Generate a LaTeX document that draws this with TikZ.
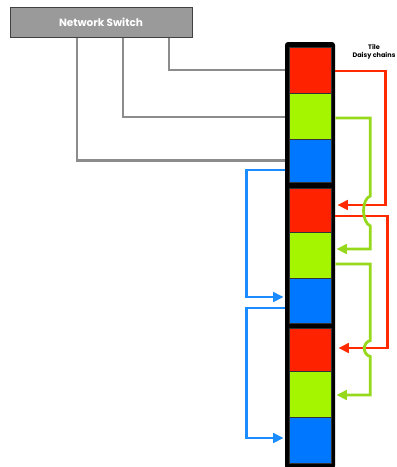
\documentclass[tikz,border=0pt]{standalone}
\usepackage{fontspec}
\setmainfont{Poppins}
\usetikzlibrary{arrows.meta}
\definecolor{cred}{HTML}{FF2200}
\definecolor{cgreen}{HTML}{A6F500}
\definecolor{cblue}{HTML}{0077FF}
\definecolor{lred}{HTML}{FF2A00}
\definecolor{lgreen}{HTML}{96D91A}
\definecolor{lblue}{HTML}{1A8CFF}
\definecolor{swfill}{HTML}{9A9A9A}
\definecolor{lgray}{HTML}{8C8C8C}
\tikzset{
  cell/.style={draw=black!80, line width=0.6pt, minimum width=42pt, inner sep=0pt},
  colbox/.style={fill=black, rounded corners=3pt, minimum width=50pt, inner sep=0pt},
  grayline/.style={draw=lgray, line width=2.3pt},
  tip/.style={-{Triangle[length=10.5pt,width=9.5pt]}},
  redline/.style={draw=lred, line width=2.8pt, tip},
  greenline/.style={draw=lgreen, line width=2.8pt, tip},
  blueline/.style={draw=lblue, line width=2.8pt, tip},
}
\begin{document}
\begin{tikzpicture}[x=1pt,y=-1pt]
\useasboundingbox (0,0) rectangle (397,467);
% switch
\node[fill=swfill, draw=black!75, line width=1pt, minimum width=182pt, minimum height=30pt, inner sep=0pt,
  text=white, font=\bfseries\fontsize{10.5}{12}\selectfont] (sw) at (101,22) {Network Switch};
% column
\node[colbox, minimum height=427pt] (col) at (310,255.5) {};
% cells
\node[cell, fill=cred,   minimum height=46pt] (r1) at (310,70) {};
\node[cell, fill=cgreen, minimum height=46pt] (g1) at (310,116) {};
\node[cell, fill=cblue,  minimum height=43pt] (b1) at (310,160.5) {};
\node[cell, fill=cred,   minimum height=44pt] (r2) at (310,210) {};
\node[cell, fill=cgreen, minimum height=46pt] (g2) at (310,255) {};
\node[cell, fill=cblue,  minimum height=45pt] (b2) at (310,300.5) {};
\node[cell, fill=cred,   minimum height=43pt] (r3) at (310,349.5) {};
\node[cell, fill=cgreen, minimum height=46pt] (g3) at (310,394) {};
\node[cell, fill=cblue,  minimum height=46pt] (b3) at (310,440) {};
% label
\node[font=\bfseries\fontsize{6.5}{7.5}\selectfont, align=center, inner sep=0pt] (lbl) at (374,52) {Tile\\Daisy chains};
% gray links
\draw[grayline] ([xshift=68pt]sw.south) |- ([xshift=-4pt]r1.west);
\draw[grayline] ([xshift=22pt]sw.south) |- ([xshift=-4pt,yshift=-1pt]g1.west);
\draw[grayline] ([xshift=-24pt]sw.south) |- ([xshift=-4pt]b1.west);
% red chains
\draw[redline] ([xshift=4pt,yshift=-1pt]r1.east) -| ([xshift=54pt,yshift=5pt]r2.east) -- ([xshift=6pt,yshift=5pt]r2.east);
\draw[redline] ([xshift=4pt,yshift=-6pt]r2.east) -| ([xshift=56pt,yshift=1.5pt]r3.east) -- ([xshift=7pt,yshift=1.5pt]r3.east);
% green chains
\coordinate (gt1) at ([xshift=39pt,yshift=14pt]r2.east);
\coordinate (gb1) at ([xshift=39pt,yshift=-16pt]r2.east);
\draw[greenline] ([xshift=4pt,yshift=-2pt]g1.east) -| (gt1)
  .. controls ([xshift=30pt,yshift=11pt]r2.east) and ([xshift=30pt,yshift=-12pt]r2.east) .. (gb1)
  |- ([xshift=5pt,yshift=6pt]g2.east);
\coordinate (gt2) at ([xshift=39pt,yshift=9pt]r3.east);
\coordinate (gb2) at ([xshift=39pt,yshift=-7pt]r3.east);
\draw[greenline] ([xshift=4pt,yshift=-9pt]g2.east) -| (gt2)
  .. controls ([xshift=31pt,yshift=7pt]r3.east) and ([xshift=31pt,yshift=-5pt]r3.east) .. (gb2)
  |- ([xshift=5pt,yshift=-1pt]g3.east);
% blue chains
\draw[blueline] ([xshift=-4pt,yshift=-9.5pt]b1.west) -| ([xshift=-42pt,yshift=3.5pt]b2.west) -- ([xshift=-5pt,yshift=3.5pt]b2.west);
\draw[blueline] ([xshift=-4pt,yshift=-7.5pt]b2.west) -| ([xshift=-42pt,yshift=2pt]b3.west) -- ([xshift=-5pt,yshift=2pt]b3.west);
\end{tikzpicture}
\end{document}
